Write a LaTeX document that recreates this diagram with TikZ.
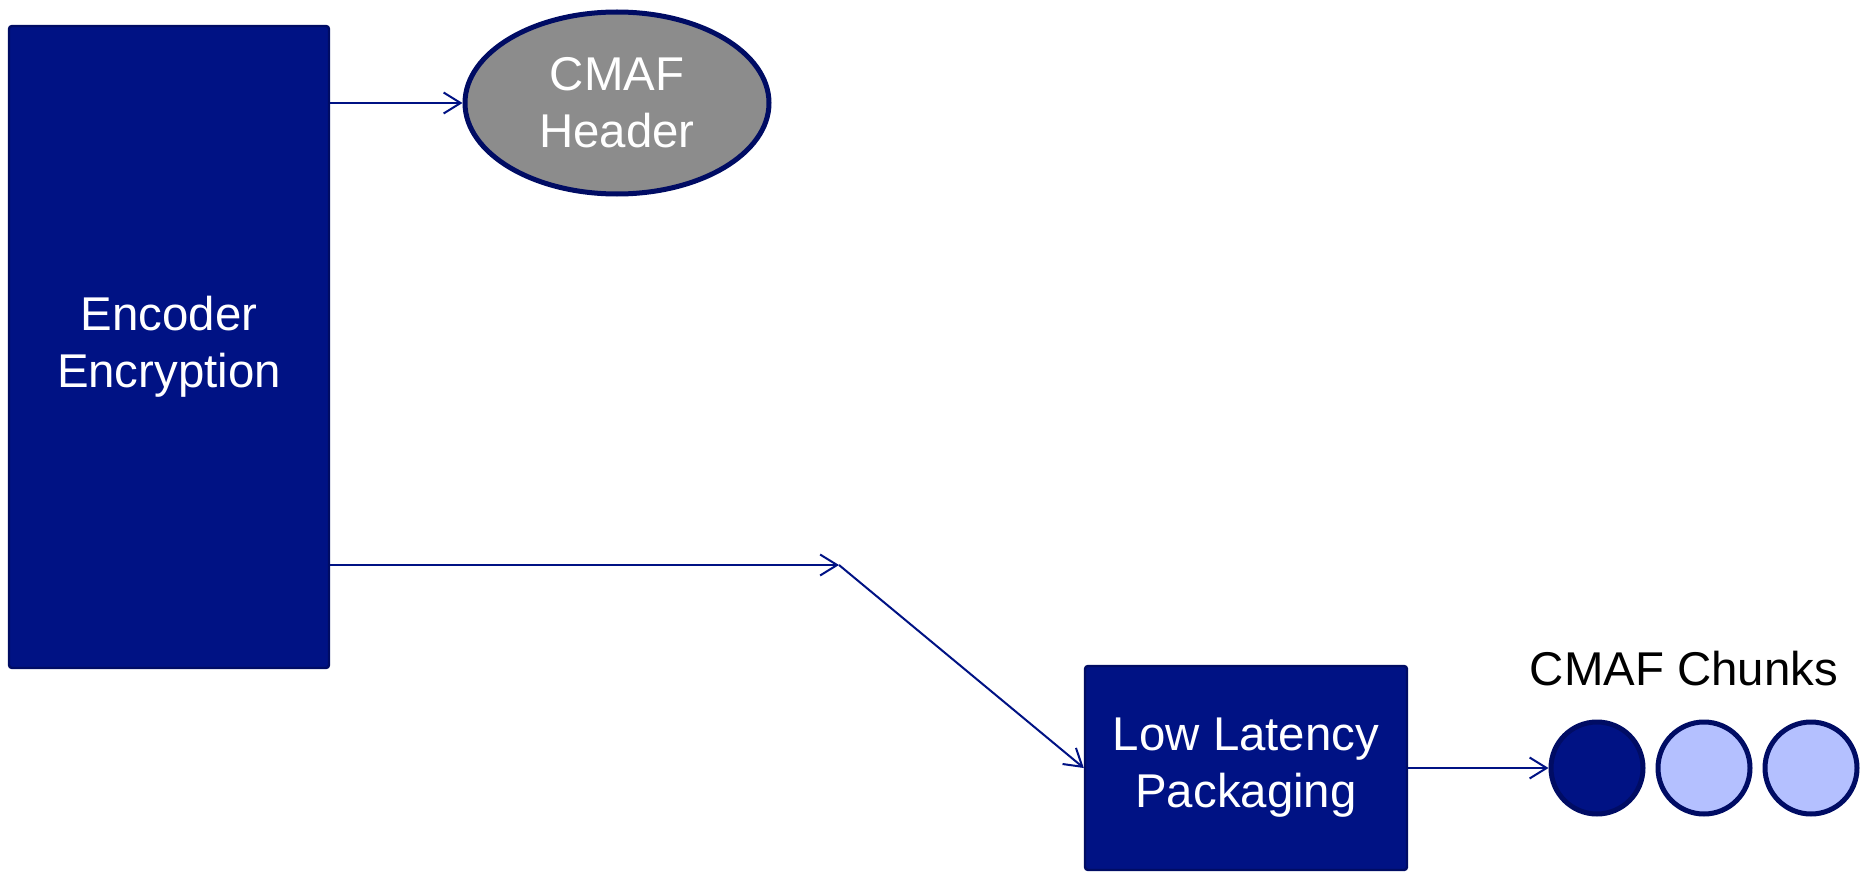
\documentclass[tikz,border=0pt]{standalone}
\usepackage{fontspec}
\setmainfont{Liberation Sans}
\usepackage{xcolor}
\usetikzlibrary{shapes.geometric,arrows.meta,positioning}
\definecolor{boxblue}{RGB}{0,18,132}
\definecolor{edgeblue}{RGB}{0,12,100}
\definecolor{hdrgray}{RGB}{140,140,140}
\definecolor{chunklight}{RGB}{180,192,255}
\tikzset{stage/.style={draw=edgeblue, line width=1.2pt, fill=boxblue, rounded corners=1.5pt, text=white, align=center, inner sep=0pt},
  hdr/.style={draw=edgeblue, line width=2.5pt, fill=hdrgray, ellipse, text=white, align=center, inner sep=0pt, minimum width=152pt, minimum height=91pt},
  chunk/.style={draw=edgeblue, line width=2.5pt, circle, inner sep=0pt, minimum size=46pt},
  arr/.style={draw=boxblue, line width=1pt, -{Straight Barb[length=8.5pt,width=10.5pt]}}}

\begin{document}
\begin{tikzpicture}[x=0.5pt, y=-0.5pt, font=\fontsize{23.7}{28.5}\selectfont]
		\useasboundingbox (0,0) rectangle (1864,872);
		\node[stage, minimum width=160pt, minimum height=321pt] (enc) at (169,347) {Encoder\\Encryption};
		\node[hdr] (head) at (617,103) {CMAF\\Header};
		\node[stage, minimum width=161pt, minimum height=102pt] (llp) at (1246,768) {Low Latency\\Packaging};
		\node[chunk, fill=boxblue] (c1) at (1597,768) {};
		\node[chunk, fill=chunklight] (c2) [right=5pt of c1] {};
		\node[chunk, fill=chunklight] (c3) [right=5pt of c2] {};
		\node[anchor=base, inner sep=0pt] (lbl) at (1684,685) {CMAF Chunks};
		\coordinate (bend) at (839,565);
		
		\draw[arr] (enc.east |- head.west) -- (head.west);
		\draw[arr] (enc.east |- bend) -- (bend);
		\draw[arr] (bend) -- (llp.west);
		\draw[arr] (llp.east) -- (c1.west);
	\end{tikzpicture}
\end{document}
